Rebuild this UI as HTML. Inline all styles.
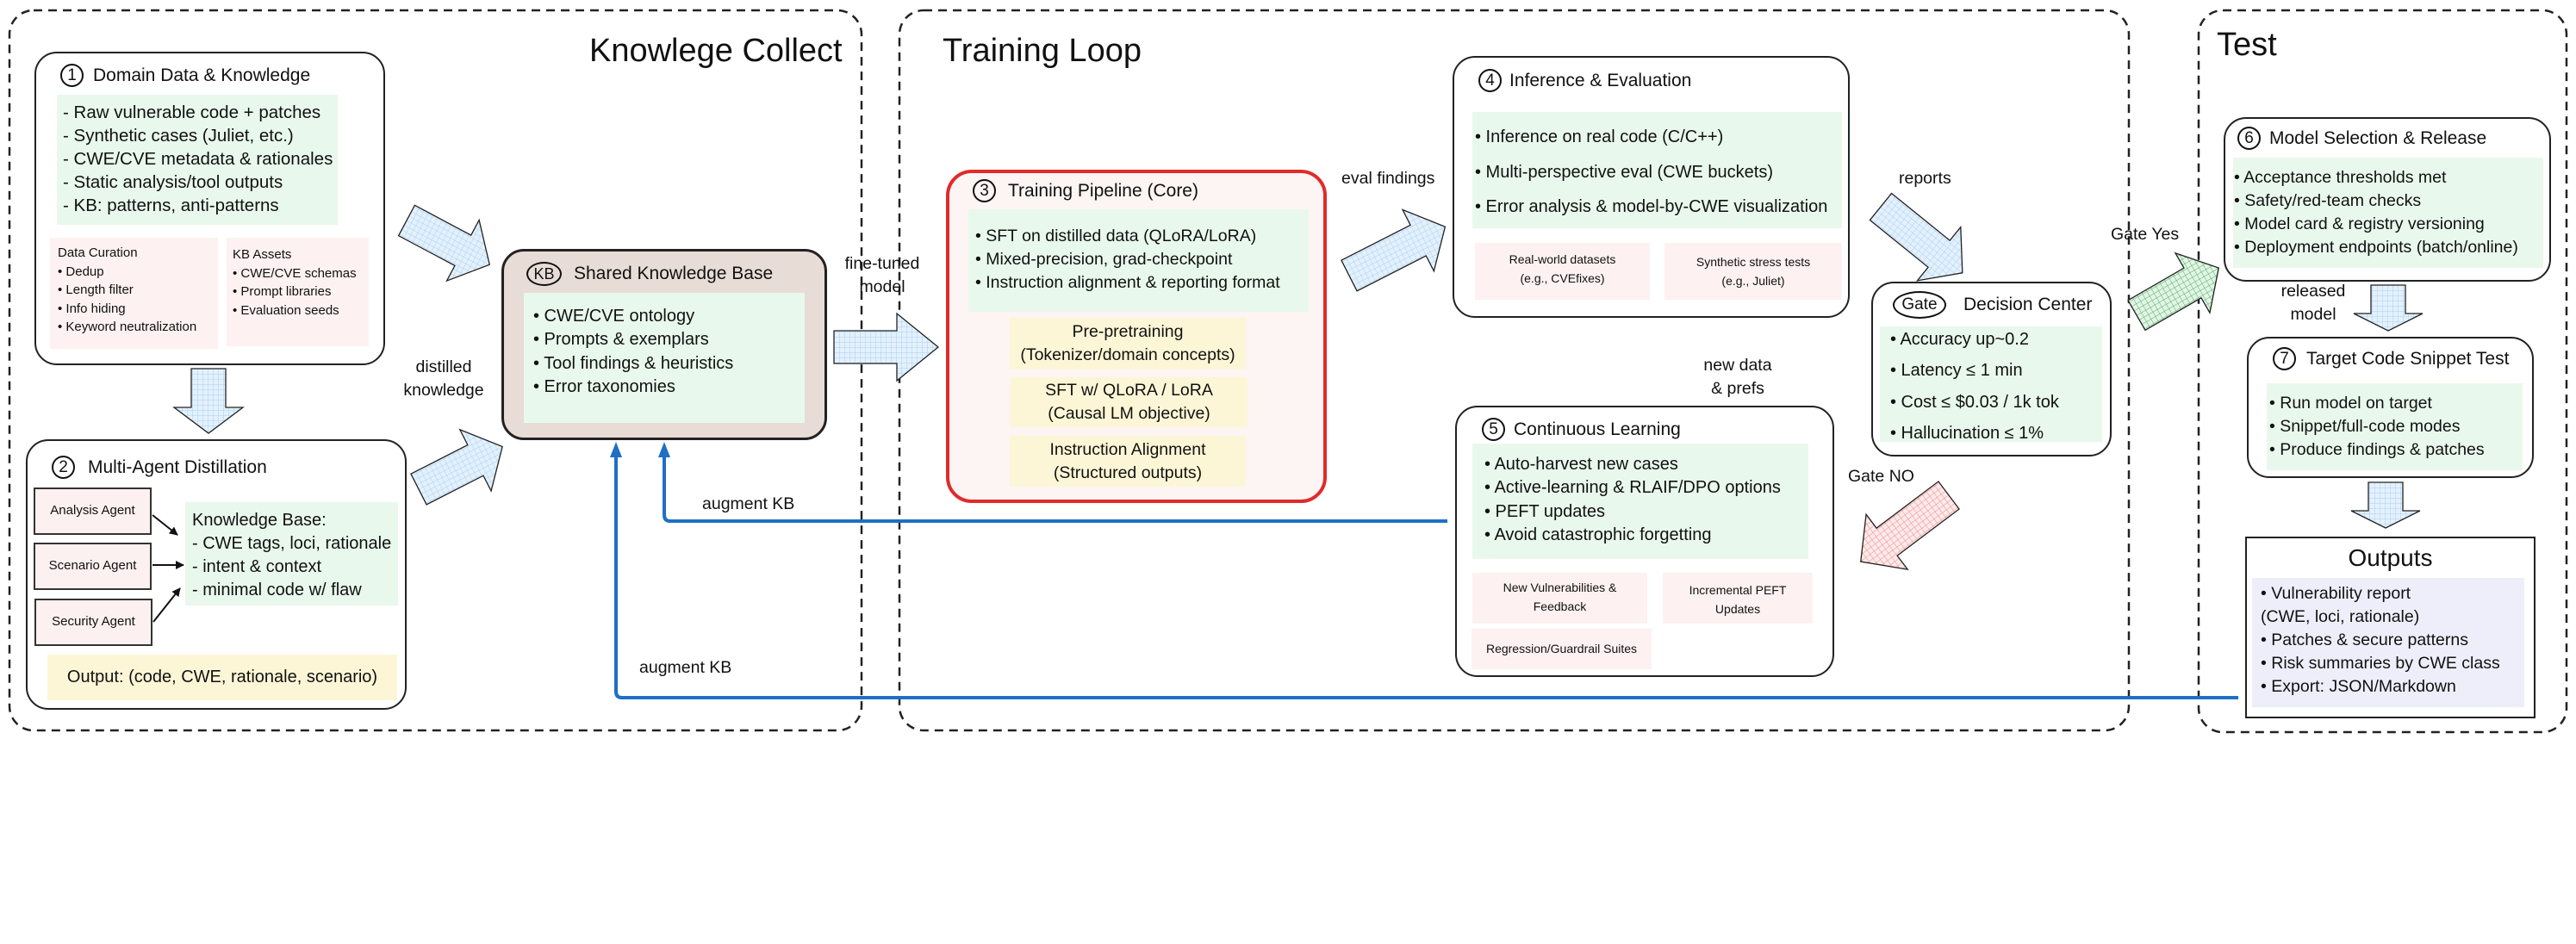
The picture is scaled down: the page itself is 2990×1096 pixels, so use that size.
<!DOCTYPE html>
<html><head><meta charset="utf-8">
<style>
body{margin:0;width:2990px;height:1096px;background:#fff;position:relative;overflow:hidden;font-family:"Liberation Sans",sans-serif;color:#111;}
.a{position:absolute;}
.t{position:absolute;white-space:nowrap;}
.box{position:absolute;border:2.5px solid #222;border-radius:26px;background:#fff;box-sizing:border-box;}
.g{position:absolute;background:#e9f8ec;}
.p{position:absolute;background:#fdf1f1;}
.y{position:absolute;background:#fdf6d6;text-align:center;font-size:19.5px;line-height:27px;}
.num{position:absolute;width:27px;height:27px;border:2px solid #111;border-radius:50%;box-sizing:border-box;text-align:center;font-size:19px;line-height:24px;}
.ttl{position:absolute;font-size:21px;white-space:nowrap;line-height:26px;}
.ln{position:absolute;white-space:nowrap;font-size:20px;line-height:27px;}
.sm{position:absolute;white-space:nowrap;font-size:15px;line-height:21.5px;}
.ag{position:absolute;background:#fdf0f0;border:2.5px solid #333;box-sizing:border-box;font-size:15px;text-align:center;line-height:50px;}
.lbl{position:absolute;white-space:nowrap;font-size:19.5px;line-height:27px;text-align:center;}
</style></head><body>

<svg class="a" style="left:0;top:0;" width="2990" height="1096">
<g fill="none" stroke="#222" stroke-width="2.5" stroke-dasharray="10 7">
<rect x="11" y="12" width="989" height="836" rx="28"/>
<rect x="1044" y="12" width="1427" height="836" rx="28"/>
<rect x="2552" y="12" width="427" height="838" rx="28"/>
</g>
</svg>
<div class="t" style="left:684px;top:38px;font-size:38px;">Knowlege Collect</div>
<div class="t" style="left:1094px;top:38px;font-size:38px;">Training Loop</div>
<div class="t" style="left:2573px;top:31px;font-size:38px;">Test</div>

<!-- Box 1 -->
<div class="box" style="left:40px;top:60px;width:407px;height:364px;"></div>
<div class="num" style="left:70px;top:74px;">1</div>
<div class="ttl" style="left:108px;top:75px;">Domain Data &amp; Knowledge</div>
<div class="g" style="left:66px;top:110px;width:326px;height:151px;"></div>
<div class="ln" style="left:73px;top:117px;font-size:20.5px;">- Raw vulnerable code + patches<br>- Synthetic cases (Juliet, etc.)<br>- CWE/CVE metadata &amp; rationales<br>- Static analysis/tool outputs<br>- KB: patterns, anti-patterns</div>
<div class="p" style="left:58px;top:276px;width:195px;height:129px;"></div>
<div class="sm" style="left:67px;top:283px;">Data Curation<br>• Dedup<br>• Length filter<br>• Info hiding<br>• Keyword neutralization</div>
<div class="p" style="left:263px;top:276px;width:165px;height:126px;"></div>
<div class="sm" style="left:270px;top:285px;">KB Assets<br>• CWE/CVE schemas<br>• Prompt libraries<br>• Evaluation seeds</div>

<!-- Box 2 -->
<div class="box" style="left:30px;top:510px;width:442px;height:314px;"></div>
<div class="num" style="left:60px;top:529px;">2</div>
<div class="ttl" style="left:102px;top:530px;">Multi-Agent Distillation</div>
<div class="ag" style="left:39px;top:566px;width:137px;height:55px;">Analysis Agent</div>
<div class="ag" style="left:39px;top:630px;width:137px;height:55px;">Scenario Agent</div>
<div class="ag" style="left:40px;top:695px;width:137px;height:55px;">Security Agent</div>
<div class="g" style="left:215px;top:583px;width:247px;height:120px;"></div>
<div class="ln" style="left:223px;top:591px;">Knowledge Base:<br>- CWE tags, loci, rationale<br>- intent &amp; context<br>- minimal code w/ flaw</div>
<div class="y" style="left:55px;top:760px;width:406px;height:53px;line-height:53px;font-size:20px;">Output: (code, CWE, rationale, scenario)</div>

<!-- KB -->
<div class="box" style="left:582px;top:289px;width:378px;height:222px;background:#e7dcd6;border-width:3px;"></div>
<div class="a" style="left:611px;top:304px;width:41px;height:28px;border:2px solid #111;border-radius:50%;box-sizing:border-box;text-align:center;font-size:18px;line-height:24px;">KB</div>
<div class="ttl" style="left:666px;top:305px;">Shared Knowledge Base</div>
<div class="g" style="left:608px;top:340px;width:326px;height:151px;"></div>
<div class="ln" style="left:619px;top:354px;line-height:27.3px;">• CWE/CVE ontology<br>• Prompts &amp; exemplars<br>• Tool findings &amp; heuristics<br>• Error taxonomies</div>
<div class="lbl" style="left:455px;top:413px;width:120px;">distilled<br>knowledge</div>
<div class="lbl" style="left:964px;top:293px;width:120px;">fine-tuned<br>model</div>

<!-- Box 3 -->
<div class="a" style="left:1098px;top:197px;width:442px;height:387px;border:4px solid #e02b2b;border-radius:30px;background:#fdf4f4;box-sizing:border-box;"></div>
<div class="num" style="left:1129px;top:208px;">3</div>
<div class="ttl" style="left:1170px;top:209px;">Training Pipeline (Core)</div>
<div class="g" style="left:1124px;top:243px;width:395px;height:119px;"></div>
<div class="ln" style="left:1132px;top:261px;font-size:19.5px;">• SFT on distilled data (QLoRA/LoRA)<br>• Mixed-precision, grad-checkpoint<br>• Instruction alignment &amp; reporting format</div>
<div class="y" style="left:1172px;top:369px;width:274px;height:60px;padding-top:3px;box-sizing:border-box;">Pre-pretraining<br>(Tokenizer/domain concepts)</div>
<div class="y" style="left:1173px;top:438px;width:275px;height:58px;padding-top:2px;box-sizing:border-box;">SFT w/ QLoRA / LoRA<br>(Causal LM objective)</div>
<div class="y" style="left:1172px;top:506px;width:274px;height:59px;padding-top:3px;box-sizing:border-box;">Instruction Alignment<br>(Structured outputs)</div>
<div class="lbl" style="left:1557px;top:194px;">eval findings</div>

<!-- Box 4 -->
<div class="box" style="left:1686px;top:65px;width:461px;height:304px;"></div>
<div class="num" style="left:1716px;top:80px;">4</div>
<div class="ttl" style="left:1752px;top:81px;">Inference &amp; Evaluation</div>
<div class="g" style="left:1709px;top:130px;width:429px;height:135px;"></div>
<div class="ln" style="left:1712px;top:139px;line-height:40.5px;">• Inference on real code (C/C++)<br>• Multi-perspective eval (CWE buckets)<br>• Error analysis &amp; model-by-CWE visualization</div>
<div class="p" style="left:1712px;top:282px;width:203px;height:66px;"></div>
<div class="sm" style="left:1712px;top:291px;width:203px;text-align:center;font-size:14px;">Real-world datasets<br>(e.g., CVEfixes)</div>
<div class="p" style="left:1932px;top:282px;width:206px;height:66px;"></div>
<div class="sm" style="left:1932px;top:294px;width:206px;text-align:center;font-size:14px;">Synthetic stress tests<br>(e.g., Juliet)</div>
<div class="lbl" style="left:1957px;top:411px;width:120px;">new data<br>&amp; prefs</div>

<!-- Box 5 -->
<div class="box" style="left:1689px;top:471px;width:440px;height:315px;"></div>
<div class="num" style="left:1720px;top:485px;">5</div>
<div class="ttl" style="left:1757px;top:486px;">Continuous Learning</div>
<div class="g" style="left:1709px;top:515px;width:390px;height:134px;"></div>
<div class="ln" style="left:1723px;top:526px;line-height:27.3px;">• Auto-harvest new cases<br>• Active-learning &amp; RLAIF/DPO options<br>• PEFT updates<br>• Avoid catastrophic forgetting</div>
<div class="p" style="left:1709px;top:665px;width:203px;height:59px;"></div>
<div class="sm" style="left:1709px;top:672px;width:203px;text-align:center;font-size:14px;">New Vulnerabilities &amp;<br>Feedback</div>
<div class="p" style="left:1930px;top:665px;width:174px;height:59px;"></div>
<div class="sm" style="left:1930px;top:675px;width:174px;text-align:center;font-size:14px;">Incremental PEFT<br>Updates</div>
<div class="p" style="left:1708px;top:730px;width:209px;height:47px;"></div>
<div class="sm" style="left:1708px;top:743px;width:209px;text-align:center;font-size:14px;">Regression/Guardrail Suites</div>

<!-- Gate -->
<div class="lbl" style="left:2204px;top:194px;">reports</div>
<div class="box" style="left:2172px;top:327px;width:279px;height:203px;"></div>
<div class="a" style="left:2197px;top:338px;width:62px;height:32px;border:2px solid #111;border-radius:50%;box-sizing:border-box;text-align:center;font-size:19px;line-height:28px;">Gate</div>
<div class="ttl" style="left:2279px;top:341px;">Decision Center</div>
<div class="g" style="left:2182px;top:379px;width:258px;height:134px;"></div>
<div class="ln" style="left:2194px;top:376px;line-height:36.3px;">• Accuracy up~0.2<br>• Latency ≤ 1 min<br>• Cost ≤ $0.03 / 1k tok<br>• Hallucination ≤ 1%</div>
<div class="lbl" style="left:2145px;top:540px;">Gate NO</div>
<div class="lbl" style="left:2450px;top:259px;">Gate Yes</div>

<!-- Box 6 -->
<div class="box" style="left:2581px;top:136px;width:380px;height:191px;"></div>
<div class="num" style="left:2597px;top:147px;">6</div>
<div class="ttl" style="left:2634px;top:148px;">Model Selection &amp; Release</div>
<div class="g" style="left:2592px;top:183px;width:360px;height:128px;"></div>
<div class="ln" style="left:2593px;top:193px;font-size:19.5px;">• Acceptance thresholds met<br>• Safety/red-team checks<br>• Model card &amp; registry versioning<br>• Deployment endpoints (batch/online)</div>
<div class="lbl" style="left:2625px;top:325px;width:120px;">released<br>model</div>

<!-- Box 7 -->
<div class="box" style="left:2608px;top:391px;width:333px;height:164px;"></div>
<div class="num" style="left:2638px;top:403px;">7</div>
<div class="ttl" style="left:2677px;top:404px;">Target Code Snippet Test</div>
<div class="g" style="left:2631px;top:445px;width:297px;height:101px;"></div>
<div class="ln" style="left:2634px;top:455px;font-size:19.5px;">• Run model on target<br>• Snippet/full-code modes<br>• Produce findings &amp; patches</div>

<!-- Outputs -->
<div class="a" style="left:2606px;top:623px;width:337px;height:211px;border:2.5px solid #222;box-sizing:border-box;"></div>
<div class="t" style="left:2606px;top:630px;width:337px;text-align:center;font-size:28px;line-height:36px;">Outputs</div>
<div class="a" style="left:2614px;top:671px;width:316px;height:150px;background:#eeeefb;"></div>
<div class="ln" style="left:2624px;top:676px;font-size:19.5px;">• Vulnerability report<br>(CWE, loci, rationale)<br>• Patches &amp; secure patterns<br>• Risk summaries by CWE class<br>• Export: JSON/Markdown</div>

<div class="lbl" style="left:815px;top:572px;">augment KB</div>
<div class="lbl" style="left:742px;top:762px;">augment KB</div>

<svg class="a" style="left:0;top:0;" width="2990" height="1096" viewBox="0 0 2990 1096">
<defs>
<pattern id="hb" width="6" height="6" patternUnits="userSpaceOnUse"><rect width="6" height="6" fill="#e4f1fc"/><path d="M0 0H6M0 0V6" stroke="#a9d0f2" stroke-width="1"/></pattern>
<pattern id="hg" width="6" height="6" patternUnits="userSpaceOnUse"><rect width="6" height="6" fill="#e3f4e6"/><path d="M0 0H6M0 0V6" stroke="#4fb263" stroke-width="1"/></pattern>
<pattern id="hr" width="6" height="6" patternUnits="userSpaceOnUse"><rect width="6" height="6" fill="#fdeaea"/><path d="M0 0H6M0 0V6" stroke="#f08a8a" stroke-width="1"/></pattern>
<marker id="mb" markerWidth="10" markerHeight="10" refX="9" refY="5" orient="auto" markerUnits="userSpaceOnUse"><path d="M0 0L10 5L0 10z" fill="#111"/></marker>
</defs>
<g stroke="#222" stroke-width="1.3">
<g transform="translate(472,256) rotate(28)"><path d="M0 -20H74V-40L109 0L74 40V20H0Z" fill="url(#hb)"/></g>
<g transform="translate(486,568) rotate(-27)"><path d="M0 -20H74V-40L109 0L74 40V20H0Z" fill="url(#hb)"/></g>
<g transform="translate(968,403)"><path d="M0 -19H73V-39L121 0L73 39V19H0Z" fill="url(#hb)"/></g>
<g transform="translate(1566,320) rotate(-27)"><path d="M0 -20H90V-40L125 0L90 40V20H0Z" fill="url(#hb)"/></g>
<g transform="translate(2183,240) rotate(39)"><path d="M0 -20H87V-40L122 0L87 40V20H0Z" fill="url(#hb)"/></g>
<g transform="translate(2262,575) rotate(143)"><path d="M0 -20H90V-40L128 0L90 40V20H0Z" fill="url(#hr)"/></g>
<g transform="translate(2480,366) rotate(-30)"><path d="M0 -20H75V-40L110 0L75 40V20H0Z" fill="url(#hg)"/></g>
<g transform="translate(242,428) rotate(90)"><path d="M0 -20H45V-40L75 0L45 40V20H0Z" fill="url(#hb)"/></g>
<g transform="translate(2772,331) rotate(90)"><path d="M0 -20H33V-40L53 0L33 40V20H0Z" fill="url(#hb)"/></g>
<g transform="translate(2769,560) rotate(90)"><path d="M0 -20H33V-40L53 0L33 40V20H0Z" fill="url(#hb)"/></g>
</g>
<g stroke="#111" stroke-width="2" fill="none">
<line x1="177" y1="598" x2="206" y2="621" marker-end="url(#mb)"/>
<line x1="177" y1="656" x2="213" y2="656" marker-end="url(#mb)"/>
<line x1="178" y1="722" x2="209" y2="683" marker-end="url(#mb)"/>
</g>
<g stroke="#1f6fc5" stroke-width="4" fill="none">
<path d="M1680 605H778Q771 605 771 598V528"/>
<path d="M2598 810H722Q715 810 715 803V528"/>
</g>
<path d="M771 513L764 531H778Z" fill="#1f6fc5"/>
<path d="M715 513L708 531H722Z" fill="#1f6fc5"/>
</svg>
</body></html>
